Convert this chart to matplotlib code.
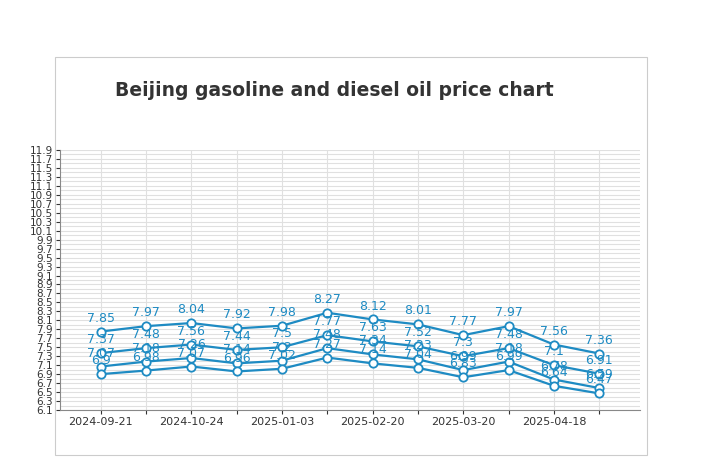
import matplotlib
matplotlib.use("Agg")
import matplotlib.pyplot as plt
import numpy as np

dates = ["2024-09-21","","2024-10-24","","2025-01-03","","2025-02-20","","2025-03-20","","2025-04-18",""]
s1 = [7.85,7.97,8.04,7.92,7.98,8.27,8.12,8.01,7.77,7.97,7.56,7.36]
s2 = [7.37,7.48,7.56,7.44,7.5,7.77,7.63,7.52,7.3,7.48,7.1,6.91]
s3 = [7.07,7.18,7.26,7.14,7.2,7.48,7.34,7.23,6.99,7.18,6.78,6.59]
s4 = [6.9,6.98,7.07,6.96,7.02,7.27,7.14,7.04,6.83,6.99,6.64,6.47]

color = "#1e8bc3"
fig = plt.figure(figsize=(7.03,4.70), dpi=100)
fig.patches.append(matplotlib.patches.Rectangle((55/703, 1-455/470), 592/703, 398/470,
    transform=fig.transFigure, fill=False, edgecolor="#cccccc", lw=0.8))
fig.text(334/703, 1-90/470, "Beijing gasoline and diesel oil price chart", ha="center", va="center",
         fontsize=13.5, fontweight="bold", color="#333333")
ax = fig.add_axes([60/703, 1-410/470, 580/703, 260/470])
x = np.arange(len(dates))
for s in [s1,s2,s3,s4]:
    ax.plot(x, s, color=color, lw=1.6, marker="o", ms=6, mfc="white", mec=color, mew=1.3)
    for xi, v in zip(x, s):
        ax.annotate(f"{v:g}", (xi, v), xytext=(0,5), textcoords="offset points",
                    ha="center", va="bottom", fontsize=9, color=color)
ax.set_xlim(-0.9, len(dates)-0.1)
ax.set_ylim(6.1, 11.9)
yt = np.round(np.arange(6.1, 11.91, 0.2), 1)
ax.set_yticks(yt)
ax.set_yticklabels([f"{v:g}" for v in yt], fontsize=7.5)
ax.set_yticks(np.round(np.arange(6.2, 11.9, 0.2), 1), minor=True)
ax.set_xticks(x)
ax.set_xticklabels(dates, fontsize=8)
ax.grid(True, which="both", axis="y", color="#e0e0e0", lw=0.8)
ax.grid(True, axis="x", color="#e0e0e0", lw=0.8)
ax.set_axisbelow(True)
for sp in ["top","right"]:
    ax.spines[sp].set_visible(False)
for sp in ["left","bottom"]:
    ax.spines[sp].set_color("#888888")
ax.tick_params(colors="#333333", length=3, pad=2)
ax.tick_params(which="minor", length=0)
fig.savefig("out.png", dpi=100)
